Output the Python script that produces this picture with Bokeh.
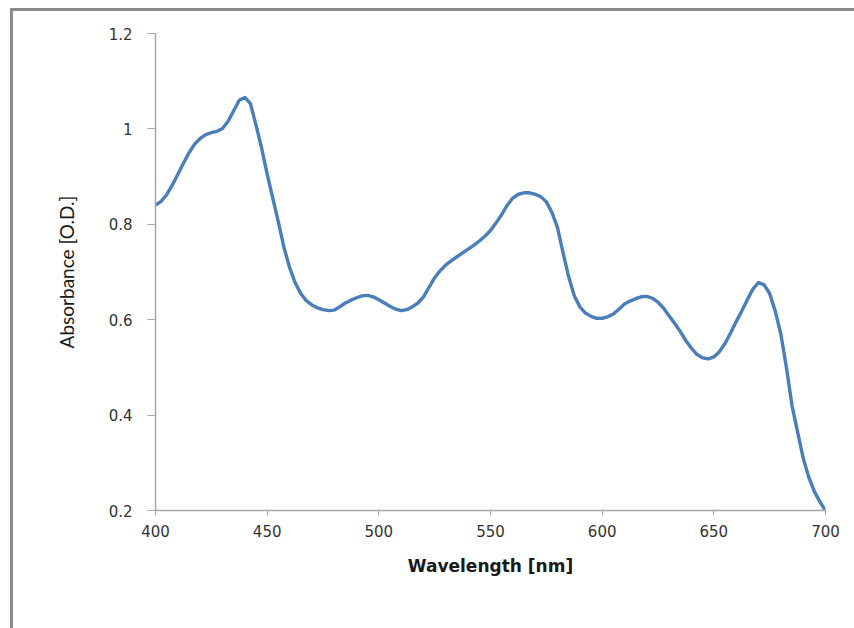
from bokeh.plotting import figure
from bokeh.models import ColumnDataSource, FixedTicker, NumeralTickFormatter, Range1d
from bokeh.embed import file_html
from bokeh.resources import INLINE

# Absorption spectrum, sampled every 2.5 nm
wavelength = [400.0, 402.5, 405.0, 407.5, 410.0, 412.5, 415.0, 417.5, 420.0, 422.5,
              425.0, 427.5, 430.0, 432.5, 435.0, 437.5, 440.0, 442.5, 445.0, 447.5,
              450.0, 452.5, 455.0, 457.5, 460.0, 462.5, 465.0, 467.5, 470.0, 472.5,
              475.0, 477.5, 480.0, 482.5, 485.0, 487.5, 490.0, 492.5, 495.0, 497.5,
              500.0, 502.5, 505.0, 507.5, 510.0, 512.5, 515.0, 517.5, 520.0, 522.5,
              525.0, 527.5, 530.0, 532.5, 535.0, 537.5, 540.0, 542.5, 545.0, 547.5,
              550.0, 552.5, 555.0, 557.5, 560.0, 562.5, 565.0, 567.5, 570.0, 572.5,
              575.0, 577.5, 580.0, 582.5, 585.0, 587.5, 590.0, 592.5, 595.0, 597.5,
              600.0, 602.5, 605.0, 607.5, 610.0, 612.5, 615.0, 617.5, 620.0, 622.5,
              625.0, 627.5, 630.0, 632.5, 635.0, 637.5, 640.0, 642.5, 645.0, 647.5,
              650.0, 652.5, 655.0, 657.5, 660.0, 662.5, 665.0, 667.5, 670.0, 672.5,
              675.0, 677.5, 680.0, 682.5, 685.0, 687.5, 690.0, 692.5, 695.0, 697.5,
              700.0]
absorbance = [0.840, 0.848, 0.862, 0.882, 0.905, 0.928, 0.950, 0.968, 0.980, 0.988,
              0.992, 0.995, 1.001, 1.016, 1.038, 1.060, 1.066, 1.053, 1.008, 0.960,
              0.905, 0.855, 0.805, 0.752, 0.710, 0.678, 0.655, 0.640, 0.631, 0.625,
              0.621, 0.619, 0.620, 0.627, 0.635, 0.641, 0.646, 0.650, 0.651, 0.648,
              0.642, 0.635, 0.628, 0.622, 0.619, 0.621, 0.627, 0.635, 0.648, 0.668,
              0.688, 0.703, 0.715, 0.724, 0.732, 0.740, 0.748, 0.756, 0.765, 0.775,
              0.787, 0.803, 0.820, 0.840, 0.855, 0.863, 0.866, 0.866, 0.863, 0.858,
              0.847, 0.825, 0.793, 0.740, 0.690, 0.650, 0.627, 0.614, 0.607, 0.603,
              0.603, 0.606, 0.612, 0.622, 0.633, 0.639, 0.644, 0.648, 0.649, 0.645,
              0.637, 0.624, 0.608, 0.592, 0.575, 0.556, 0.540, 0.527, 0.520, 0.518,
              0.522, 0.533, 0.550, 0.572, 0.596, 0.618, 0.642, 0.664, 0.678, 0.673,
              0.655, 0.618, 0.570, 0.500, 0.420, 0.365, 0.310, 0.270, 0.240, 0.218,
              0.200]

x_ticks = [400, 450, 500, 550, 600, 650, 700]
y_ticks = [0.2, 0.4, 0.6, 0.8, 1.0, 1.2]

source = ColumnDataSource(data=dict(wavelength=wavelength, absorbance=absorbance))

p = figure(width=844, height=620, output_backend="svg", toolbar_location=None,
           x_range=Range1d(400, 700), y_range=Range1d(0.2, 1.2),
           margin=(8, 0, 0, 10),
           styles={"border-top": "3px solid #8a8a8a", "border-left": "3px solid #8a8a8a"})
p.min_border_left = 142
p.min_border_right = 32
p.min_border_top = 22
p.min_border_bottom = 121

p.line("wavelength", "absorbance", source=source, line_color="#4a7ebb", line_width=3.4,
       line_join="round", line_cap="round")

p.grid.visible = False
p.outline_line_color = None
p.background_fill_color = "white"
p.border_fill_color = "white"

axis_color = "#a6a6a6"
label_color = "#333333"

xa = p.xaxis[0]
xa.ticker = FixedTicker(ticks=x_ticks)
xa.minor_tick_line_color = None
xa.major_tick_in = 0
xa.major_tick_out = 5
xa.axis_line_color = axis_color
xa.major_tick_line_color = axis_color
xa.axis_line_width = 1.5
xa.major_label_text_font = "DejaVu Sans"
xa.major_label_text_font_size = "15px"
xa.major_label_text_color = label_color
xa.major_label_standoff = 9
xa.axis_label = "Wavelength [nm]"
xa.axis_label_text_font = "DejaVu Sans"
xa.axis_label_text_font_style = "bold"
xa.axis_label_text_font_size = "17px"
xa.axis_label_text_color = "#1a1a1a"
xa.axis_label_standoff = 16

ya = p.yaxis[0]
ya.ticker = FixedTicker(ticks=y_ticks)
ya.formatter = NumeralTickFormatter(format="0.[0]")
ya.minor_tick_line_color = None
ya.major_tick_in = 0
ya.major_tick_out = 8
ya.axis_line_color = axis_color
ya.major_tick_line_color = axis_color
ya.axis_line_width = 1.5
ya.major_label_text_font = "DejaVu Sans"
ya.major_label_text_font_size = "15px"
ya.major_label_text_color = label_color
ya.major_label_standoff = 15
ya.axis_label = "Absorbance [O.D.]"
ya.axis_label_text_font = "Lato"
ya.axis_label_text_font_style = "normal"
ya.axis_label_text_font_size = "19px"
ya.axis_label_text_color = "#1a1a1a"
ya.axis_label_standoff = 28

open("out.html", "w").write(file_html(p, INLINE))
